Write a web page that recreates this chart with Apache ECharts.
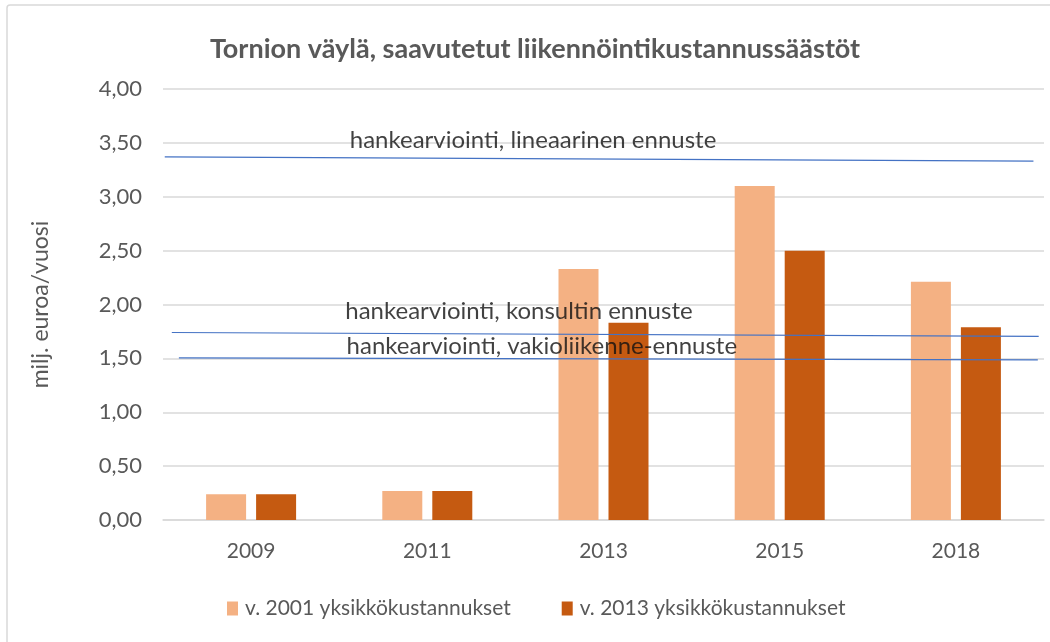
<!DOCTYPE html>
<html lang="fi">
<head>
<meta charset="UTF-8">
<title>Tornion väylä</title>
<script src="https://cdn.jsdelivr.net/npm/echarts@6/dist/echarts.min.js"></script>
<style>
  html, body { margin: 0; padding: 0; background: #fff; }
  #main { width: 1050px; height: 642px; }
</style>
</head>
<body>
<div id="main"></div>
<script>
// vuodet ja säästöt (milj. euroa/vuosi)
var years = ['2009', '2011', '2013', '2015', '2018'];
var costs2001 = [0.24, 0.27, 2.33, 3.10, 2.21];
var costs2013 = [0.24, 0.27, 1.83, 2.50, 1.79];
var seriesNames = ['v. 2001 yksikkökustannukset', 'v. 2013 yksikkökustannukset'];

// hankearvioinnin ennusteviivat: [x kategoriayksikköinä, arvo]
var lineNames = ['hankearviointi, lineaarinen ennuste', 'hankearviointi, konsultin ennuste', 'hankearviointi, vakioliikenne-ennuste'];
var lineLinear = [[0.01, 3.37], [4.94, 3.33]];
var lineConsult = [[0.05, 1.74], [4.97, 1.705]];
var lineConstant = [[0.09, 1.505], [4.965, 1.487]];

var myChart = echarts.init(document.getElementById('main'));

var labelFont = { fontFamily: 'Lato', fontSize: 24, color: '#111' };

function ennusteLine(data) {
    return {
        type: 'line',
        xAxisIndex: 1,
        data: data,
        symbol: 'none',
        silent: true,
        lineStyle: { color: '#4472C4', width: 1.2 },
        z: 3
    };
}

myChart.setOption({
    animation: false,
    backgroundColor: '#fff',
    textStyle: { fontFamily: 'Lato' },
    title: {
        text: 'Tornion väylä, saavutetut liikennöintikustannussäästöt',
        left: 530,
        textAlign: 'center',
        top: 31,
        textStyle: { fontFamily: 'Lato', fontSize: 27, fontWeight: 'bold', color: '#595959' }
    },
    graphic: [{
        type: 'rect',
        shape: { x: 7, y: 5, width: 1100, height: 700, r: 3 },
        style: { fill: 'none', stroke: '#d9d9d9', lineWidth: 1.5 },
        silent: true
    }],
    legend: {
        left: 222,
        top: 593,
        itemWidth: 11,
        itemHeight: 14,
        itemGap: 51,
        icon: 'rect',
        data: seriesNames,
        textStyle: { fontFamily: 'Lato', fontSize: 21, color: '#595959', padding: [0, 0, 0, 2] }
    },
    grid: { left: 163, right: 6, top: 89, bottom: 122 },
    xAxis: [{
        type: 'category',
        data: years,
        axisLine: { lineStyle: { color: '#d9d9d9', width: 1.5 } },
        axisTick: { show: false },
        axisLabel: { color: '#595959', fontSize: 21, margin: 21 }
    }, {
        type: 'value',
        min: 0,
        max: 5,
        show: false
    }],
    yAxis: {
        type: 'value',
        min: 0,
        max: 4,
        interval: 0.5,
        name: 'milj. euroa/vuosi',
        nameLocation: 'middle',
        nameGap: 111,
        nameTextStyle: { color: '#595959', fontSize: 23 },
        axisLine: { show: false },
        axisTick: { show: false },
        splitLine: { lineStyle: { color: '#d9d9d9', width: 1.5 } },
        axisLabel: {
            color: '#595959',
            fontSize: 22,
            margin: 21,
            formatter: function (v) { return v.toFixed(2).replace('.', ','); }
        }
    },
    series: [{
        name: seriesNames[0],
        type: 'bar',
        data: costs2001,
        barWidth: 40,
        barGap: '25%',
        itemStyle: { color: '#F4B183' }
    }, {
        name: seriesNames[1],
        type: 'bar',
        data: costs2013,
        barWidth: 40,
        itemStyle: { color: '#C55A11' }
    },
    ennusteLine(lineLinear),
    ennusteLine(lineConsult),
    ennusteLine(lineConstant),
    {
        type: 'scatter',
        xAxisIndex: 1,
        symbolSize: 1,
        silent: true,
        itemStyle: { color: 'rgba(0,0,0,0)' },
        z: 5,
        label: Object.assign({
            show: true,
            position: 'inside',
            formatter: function (p) { return p.name; }
        }, labelFont),
        data: [
            { name: lineNames[0], value: [2.10, 3.52] },
            { name: lineNames[1], value: [2.02, 1.935] },
            { name: lineNames[2], value: [2.15, 1.615] }
        ]
    }]
});
</script>
</body>
</html>
